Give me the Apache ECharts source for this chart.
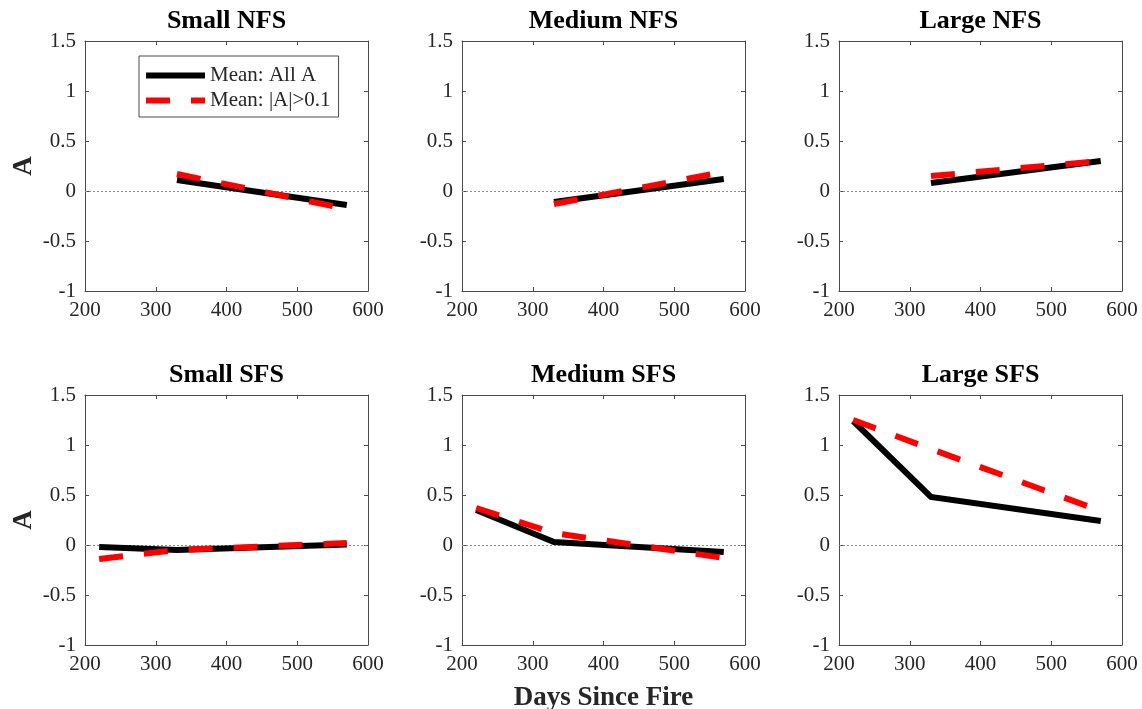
<!DOCTYPE html>
<html>
<head>
<meta charset="utf-8">
<script src="https://cdn.jsdelivr.net/npm/echarts@6/dist/echarts.min.js"></script>
<style>
  html, body { margin: 0; padding: 0; background: #fff; }
  #chart { width: 1142px; height: 709px; }
</style>
</head>
<body>
<div id="chart"></div>
<script>
// panel titles, row by row
const panelTitles = ['Small NFS', 'Medium NFS', 'Large NFS', 'Small SFS', 'Medium SFS', 'Large SFS']

// days since fire for each row
const daysNFS = [330, 570]
const daysSFS = [220, 330, 570]

// mean of all A
const allSmallNFS = [0.11, -0.14]
const allMediumNFS = [-0.11, 0.12]
const allLargeNFS = [0.08, 0.30]
const allSmallSFS = [-0.02, -0.05, 0.005]
const allMediumSFS = [0.35, 0.03, -0.07]
const allLargeSFS = [1.24, 0.48, 0.24]

// mean of |A| > 0.1
const filtSmallNFS = [0.17, -0.18]
const filtMediumNFS = [-0.13, 0.19]
const filtLargeNFS = [0.15, 0.30]
const filtSmallSFS = [-0.14, -0.05, 0.02]
const filtMediumSFS = [0.37, 0.12, -0.13]
const filtLargeSFS = [1.25, 0.96, 0.34]

const xTicks = [200, 300, 400, 500, 600]
const yTicks = [-1, -0.5, 0, 0.5, 1, 1.5]

const seriesAllName = 'Mean: All A'
const seriesFiltName = 'Mean: |A|>0.1'

const allValues = [allSmallNFS, allMediumNFS, allLargeNFS, allSmallSFS, allMediumSFS, allLargeSFS]
const filtValues = [filtSmallNFS, filtMediumNFS, filtLargeNFS, filtSmallSFS, filtMediumSFS, filtLargeSFS]

const font = 'Liberation Serif'
const axisColor = '#4a4a4a'
const labelColor = '#262626'

const gridLefts = [85, 462, 839]
const gridTops = [41, 395]
const gridW = 283
const gridH = 250

function pairs (xs, ys) {
  return xs.map((x, i) => [x, ys[i]])
}

const grids = []
const xAxes = []
const yAxes = []
const series = []
const titles = []

for (let i = 0; i < 6; i++) {
  const row = Math.floor(i / 3)
  const col = i % 3
  grids.push({
    left: gridLefts[col],
    top: gridTops[row],
    width: gridW,
    height: gridH,
    containLabel: false,
    outerBoundsMode: 'none'
  })

  titles.push({
    text: panelTitles[i],
    left: gridLefts[col] + gridW / 2,
    top: gridTops[row] - 33,
    textAlign: 'center',
    padding: 0,
    textStyle: { fontFamily: font, fontWeight: 'bold', fontSize: 26, color: '#000' }
  })

  // bottom x axis with labels, top one only for the box and ticks
  xAxes.push({
    gridIndex: i,
    type: 'value',
    position: 'bottom',
    min: xTicks[0],
    max: xTicks[xTicks.length - 1],
    interval: 100,
    splitLine: { show: false },
    axisLine: { onZero: false, lineStyle: { color: axisColor, width: 1 } },
    axisTick: { inside: true, length: 4, lineStyle: { color: axisColor } },
    axisLabel: { margin: 9, fontFamily: font, fontSize: 21, color: labelColor },
    name: i === 4 ? 'Days Since Fire' : '',
    nameLocation: 'middle',
    nameGap: 40,
    nameTextStyle: { fontFamily: font, fontWeight: 'bold', fontSize: 27, color: '#262626' }
  })
  xAxes.push({
    gridIndex: i,
    type: 'value',
    position: 'top',
    min: xTicks[0],
    max: xTicks[xTicks.length - 1],
    interval: 100,
    splitLine: { show: false },
    axisLine: { onZero: false, lineStyle: { color: axisColor, width: 1 } },
    axisTick: { inside: true, length: 4, lineStyle: { color: axisColor } },
    axisLabel: { show: false }
  })

  yAxes.push({
    gridIndex: i,
    type: 'value',
    position: 'left',
    min: yTicks[0],
    max: yTicks[yTicks.length - 1],
    interval: 0.5,
    splitLine: { show: false },
    axisLine: { onZero: false, lineStyle: { color: axisColor, width: 1 } },
    axisTick: { inside: true, length: 4, lineStyle: { color: axisColor } },
    axisLabel: { margin: 9, fontFamily: font, fontSize: 21, color: labelColor },
    name: col === 0 ? 'A' : '',
    nameLocation: 'middle',
    nameGap: 47,
    nameTextStyle: { fontFamily: font, fontWeight: 'bold', fontSize: 27, color: '#262626' }
  })
  yAxes.push({
    gridIndex: i,
    type: 'value',
    position: 'right',
    min: yTicks[0],
    max: yTicks[yTicks.length - 1],
    interval: 0.5,
    splitLine: { show: false },
    axisLine: { onZero: false, lineStyle: { color: axisColor, width: 1 } },
    axisTick: { inside: true, length: 4, lineStyle: { color: axisColor } },
    axisLabel: { show: false }
  })

  const days = row === 0 ? daysNFS : daysSFS

  // dotted zero line, kept underneath the means
  series.push({
    type: 'line',
    xAxisIndex: 2 * i,
    yAxisIndex: 2 * i,
    data: [],
    z: 1,
    silent: true,
    markLine: {
      z: 1,
      silent: true,
      symbol: 'none',
      label: { show: false },
      lineStyle: { color: '#8c8c8c', type: [2, 2], width: 1 },
      data: [{ yAxis: 0 }]
    }
  })
  series.push({
    name: seriesAllName,
    type: 'line',
    xAxisIndex: 2 * i,
    yAxisIndex: 2 * i,
    data: pairs(days, allValues[i]),
    symbol: 'none',
    z: 3,
    lineStyle: { color: '#000', width: 6, cap: 'butt', join: 'miter' },
    itemStyle: { color: '#000' }
  })
  series.push({
    name: seriesFiltName,
    type: 'line',
    xAxisIndex: 2 * i,
    yAxisIndex: 2 * i,
    data: pairs(days, filtValues[i]),
    symbol: 'none',
    z: 4,
    lineStyle: { color: '#ff0000', width: 6, type: [24, 21], cap: 'butt' },
    itemStyle: { color: '#ff0000' }
  })
}

const chart = echarts.init(document.getElementById('chart'))
chart.setOption({
  animation: false,
  backgroundColor: '#fff',
  title: titles,
  grid: grids,
  xAxis: xAxes,
  yAxis: yAxes,
  legend: {
    data: [
      { name: seriesAllName, icon: 'path://M0,0H59V6H0Z' },
      { name: seriesFiltName, icon: 'path://M0,0H24V6H0Z M45,0H59V6H45Z' }
    ],
    orient: 'vertical',
    left: 139,
    top: 56,
    itemWidth: 59,
    itemHeight: 6,
    itemGap: 4,
    padding: [9, 8, 6, 7],
    borderColor: axisColor,
    borderWidth: 1,
    borderRadius: 0,
    backgroundColor: '#fff',
    selectedMode: false,
    textStyle: { fontFamily: font, fontSize: 21, color: labelColor }
  },
  series: series
})
</script>
</body>
</html>
